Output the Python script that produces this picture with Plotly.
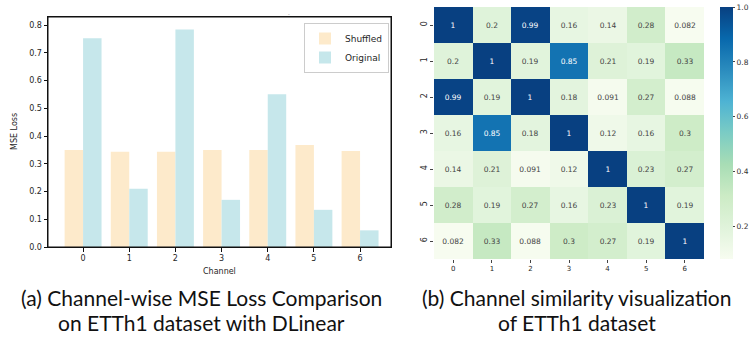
import plotly.graph_objects as go

channels = [0, 1, 2, 3, 4, 5, 6]
shuffled = [0.350, 0.343, 0.343, 0.350, 0.350, 0.368, 0.346]
original = [0.752, 0.210, 0.784, 0.170, 0.551, 0.134, 0.060]

similarity = [
    [1, 0.2, 0.99, 0.16, 0.14, 0.28, 0.082],
    [0.2, 1, 0.19, 0.85, 0.21, 0.19, 0.33],
    [0.99, 0.19, 1, 0.18, 0.091, 0.27, 0.088],
    [0.16, 0.85, 0.18, 1, 0.12, 0.16, 0.3],
    [0.14, 0.21, 0.091, 0.12, 1, 0.23, 0.27],
    [0.28, 0.19, 0.27, 0.16, 0.23, 1, 0.19],
    [0.082, 0.33, 0.088, 0.3, 0.27, 0.19, 1],
]
sim_text = [[f"{v:.2g}" for v in row] for row in similarity]
bar_yticks = [0.0, 0.1, 0.2, 0.3, 0.4, 0.5, 0.6, 0.7, 0.8]
cbar_ticks = [0.2, 0.4, 0.6, 0.8, 1.0]

W, H = 750, 338
def px(x):
    return x / W
def py(y):
    return (H - y) / H

TICKFONT = dict(family="DejaVu Sans", size=8, color="#262626")

fig = go.Figure()
fig.add_trace(go.Bar(x=channels, y=shuffled, name="Shuffled", marker_color="#FDEACB",
                     marker_line_width=0, xaxis="x", yaxis="y"))
fig.add_trace(go.Bar(x=channels, y=original, name="Original", marker_color="#C6E7EB",
                     marker_line_width=0, xaxis="x", yaxis="y"))

fig.add_trace(go.Heatmap(
    z=similarity, x=channels, y=channels, text=sim_text, texttemplate="%{text}",
    textfont=dict(family="DejaVu Sans", size=7.5),
    colorscale="GnBu", zmin=0.082, zmax=1.0, xgap=0, ygap=0,
    xaxis="x2", yaxis="y2", showlegend=False,
    colorbar=dict(x=px(720), xanchor="left", y=py(133), yanchor="middle",
                  len=(259 - 7) / H, lenmode="fraction", thickness=13,
                  outlinewidth=0, ticks="outside", ticklen=2.5, tickwidth=1,
                  tickcolor="#444", tickvals=cbar_ticks, xpad=0, ypad=0,
                  ticktext=[f"{t:.1f}" for t in cbar_ticks],
                  tickfont=dict(family="DejaVu Sans", size=7.5, color="#333")),
))

fig.update_layout(
    width=W, height=H, margin=dict(l=0, r=0, t=0, b=0, autoexpand=False),
    paper_bgcolor="white", plot_bgcolor="white",
    barmode="group", bargap=0.2, bargroupgap=0,
    xaxis=dict(domain=[px(48), px(391)], range=[-0.76, 6.67], tickvals=channels,
               ticks="outside", ticklen=3.5, tickwidth=1, tickcolor="#111",
               showline=True, mirror=True, linecolor="#111", linewidth=1,
               showgrid=False, zeroline=False, tickfont=TICKFONT, anchor="y",
               automargin=False),
    yaxis=dict(domain=[py(247), py(17)], range=[0, 0.829], tickvals=bar_yticks,
               ticktext=[f"{t:.1f}" for t in bar_yticks],
               ticks="outside", ticklen=3.5, tickwidth=1, tickcolor="#111",
               showline=True, mirror=True, linecolor="#111", linewidth=1,
               showgrid=False, zeroline=False, tickfont=TICKFONT, anchor="x",
               automargin=False),
    xaxis2=dict(domain=[px(434), px(704)], range=[-0.5, 6.5], tickvals=channels,
                ticks="outside", ticklen=3, tickwidth=1, tickcolor="#444",
                showline=False, showgrid=False, zeroline=False, automargin=False,
                tickfont=dict(family="DejaVu Sans", size=7, color="#262626"), anchor="y2"),
    yaxis2=dict(domain=[py(259), py(7)], range=[6.5, -0.5], tickvals=channels,
                ticks="outside", ticklen=3, tickwidth=1, tickcolor="#444",
                showline=False, showgrid=False, zeroline=False, tickangle=-90,
                automargin=False,
                tickfont=dict(family="DejaVu Sans", size=8, color="#262626"), anchor="x2"),
    legend=dict(x=px(389), xanchor="right", y=py(23), yanchor="top",
                bgcolor="rgba(255,255,255,0.8)", bordercolor="#ccc", borderwidth=1,
                font=dict(family="DejaVu Sans", size=9, color="#262626"),
                itemwidth=30, tracegroupgap=0),
    showlegend=True,
    shapes=[dict(type="rect", xref="x domain", yref="y domain", x0=0, x1=1, y0=0, y1=1,
                 line=dict(color="#111", width=1), fillcolor="rgba(0,0,0,0)", layer="above")],
)

TITLE_FONT = dict(family="Lato", size=21, color="#111")
annotations = [
    dict(text="MSE Loss", x=px(14), y=py(132), textangle=-90,
         font=dict(family="DejaVu Sans", size=8, color="#262626")),
    dict(text="Channel", x=px(219.5), y=py(271),
         font=dict(family="DejaVu Sans", size=8, color="#262626")),
    dict(text="-", x=px(289), y=py(14), font=dict(family="DejaVu Sans", size=5, color="#888")),
    dict(text="(a) Channel-wise MSE Loss Comparison", x=px(202), y=py(297), font=TITLE_FONT),
    dict(text="on ETTh1 dataset with DLinear", x=px(202), y=py(322), font=TITLE_FONT),
    dict(text="(b) Channel similarity visualization", x=px(576), y=py(297), font=TITLE_FONT),
    dict(text="of ETTh1 dataset", x=px(577), y=py(322), font=TITLE_FONT),
]
for a in annotations:
    a.update(xref="paper", yref="paper", showarrow=False, xanchor="center", yanchor="middle")
fig.update_layout(annotations=annotations)

fig.write_html("out.html", config={"displayModeBar": False},
               post_script="document.body.style.margin='0';document.body.style.overflow='hidden';")
